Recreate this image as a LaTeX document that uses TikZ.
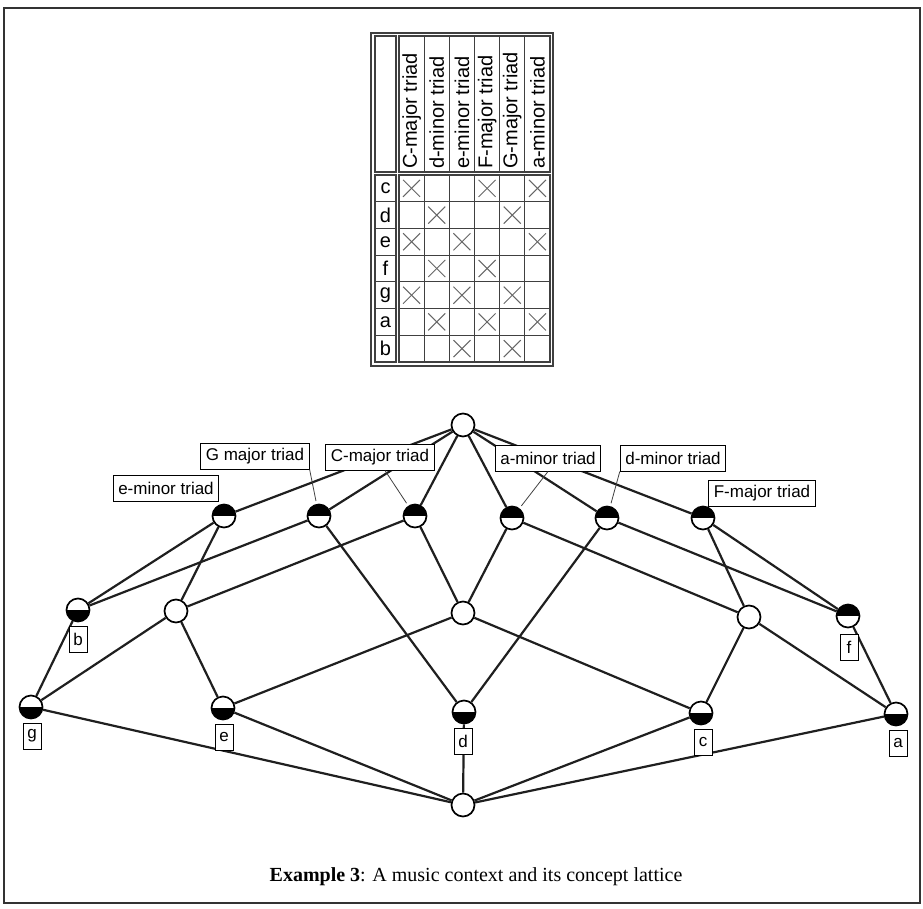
\documentclass[tikz,border=0pt]{standalone}
\usepackage{fontspec}
\setmainfont{Liberation Serif}
\setsansfont{Liberation Sans}
\usetikzlibrary{calc}

\begin{document}
\begin{tikzpicture}[x=1pt,y=-1pt,
  frameline/.style={line width=2.6pt, black!80},
  tline/.style={line width=1.1pt, black!75},
  xmark/.style={line width=1pt, black!60},
  tfont/.style={font=\sffamily\fontsize{20}{20}\selectfont, inner sep=0pt},
  edge/.style={line width=2.2pt, black!88},
  pointer/.style={line width=0.8pt, black!75, shorten >=3pt},
  concept/.style={circle, draw=black, line width=1.7pt, minimum size=23pt,
    inner sep=0pt, fill=white},
  topblack/.style={concept, path picture={\fill[black]
    (path picture bounding box.west) rectangle (path picture bounding box.north east);}},
  botblack/.style={concept, path picture={\fill[black]
    (path picture bounding box.west) rectangle (path picture bounding box.south east);}},
  tlabel/.style={draw, line width=1pt, fill=white, inner xsep=5pt, inner ysep=0pt,
    minimum height=26pt, font=\sffamily\fontsize{17}{17}\selectfont},
  olabel/.style={draw, line width=1pt, fill=white, inner sep=0pt,
    minimum width=18pt, minimum height=26pt, font=\sffamily\fontsize{17}{17}\selectfont}
]
\useasboundingbox (0,0) rectangle (923,908);

% outer frame
\draw[frameline] (4,8) rectangle (920,903);

% ---------------- formal context ----------------
\def\colw{25.17}
\def\rowh{26.71}
\draw[tline] (371,33) rectangle (553,366);
\draw[tline] (375,36) rectangle (396,172);
\draw[tline] (399,36) rectangle (550,172);
\draw[tline] (375,175) rectangle (396,362);
\draw[tline] (399,175) rectangle (550,362);
\foreach \j in {1,...,5} {
  \draw[tline] (399+\j*\colw,36) -- (399+\j*\colw,172);
  \draw[tline] (399+\j*\colw,175) -- (399+\j*\colw,362);
}
\foreach \k in {1,...,6} {
  \draw[tline] (375,175+\k*\rowh) -- (396,175+\k*\rowh);
  \draw[tline] (399,175+\k*\rowh) -- (550,175+\k*\rowh);
}
% attribute headers
\foreach \t [count=\j from 0] in {C-major triad,d-minor triad,e-minor triad,F-major triad,G-major triad,a-minor triad}
  \node[tfont, rotate=90, anchor=west] (h\j) at (399+\j*\colw+0.5*\colw,169) {\t};
% object rows
\foreach \o [count=\k from 0] in {c,d,e,f,g,a,b}
  \node[tfont] (r\k) at (385.5,175+\k*\rowh+0.5*\rowh) {\o};
% incidences (column, row)
\foreach \j/\k in {0/0,3/0,5/0, 1/1,4/1, 0/2,2/2,5/2, 1/3,3/3, 0/4,2/4,4/4, 1/5,3/5,5/5, 2/6,4/6} {
  \coordinate (x\j\k) at (399+\j*\colw+0.5*\colw,175+\k*\rowh+0.5*\rowh);
  \draw[xmark] ($(x\j\k)+(-8.5,-8.5)$) -- ($(x\j\k)+(8.5,8.5)$);
  \draw[xmark] ($(x\j\k)+(-8.5,8.5)$) -- ($(x\j\k)+(8.5,-8.5)$);
}

% ---------------- concept lattice ----------------
\node[concept]   (T)  at (463,425) {};
\node[topblack]  (A1) at (224,516) {};
\node[topblack]  (A2) at (319,516) {};
\node[topblack]  (A3) at (415,516) {};
\node[topblack]  (A4) at (512,518) {};
\node[topblack]  (A5) at (607,518) {};
\node[topblack]  (A6) at (703,518) {};
\node[botblack]  (nb) at (78,610) {};
\node[concept]   (L)  at (176,611) {};
\node[concept]   (M)  at (463,613) {};
\node[concept]   (R)  at (749,617) {};
\node[topblack]  (nf) at (848,616) {};
\node[botblack]  (ng) at (31,707) {};
\node[botblack]  (ne) at (223,708) {};
\node[botblack]  (nd) at (464,712) {};
\node[botblack]  (nc) at (701,713) {};
\node[botblack]  (na) at (896,714) {};
\node[concept]   (B)  at (463,805) {};

\foreach \u/\v in {T/A1,T/A2,T/A3,T/A4,T/A5,T/A6,
  A1/nb,A1/L, A2/nb,A2/nd, A3/L,A3/M, A4/M,A4/R, A5/nd,A5/nf, A6/nf,A6/R,
  nb/ng, L/ng,L/ne, M/ne,M/nc, R/nc,R/na, nf/na,
  ng/B,ne/B,nd/B,nc/B,na/B}
  \draw[edge] (\u) -- (\v);

% attribute labels
\node[tlabel] (lE) at (166,488) {e-minor triad};
\node[tlabel] (lG) at (255,456) {G major triad};
\node[tlabel] (lC) at (380,457) {C-major triad};
\node[tlabel] (lA) at (548,458) {a-minor triad};
\node[tlabel] (lD) at (673,458) {d-minor triad};
\node[tlabel] (lF) at (762,493) {F-major triad};
\draw[pointer] (lG.south east) -- (A2);
\draw[pointer] ([xshift=5pt]lC.south) -- (A3);
\draw[pointer] (lA.south) -- (A4);
\draw[pointer] (lD.south west) -- (A5);

% object labels
\node[olabel] (ob) at (78,639) {b};
\node[olabel] (og) at (32,736) {g};
\node[olabel] (oe) at (224,737) {e};
\node[olabel] (od) at (463,741) {d};
\node[olabel] (oc) at (703,742) {c};
\node[olabel] (of) at (849,647) {f};
\node[olabel] (oa) at (898,743) {a};

% caption
\node[font=\fontsize{20}{20}\selectfont, inner sep=0pt] (cap) at (476,877)
  {\textbf{Example 3}: A music context and its concept lattice};
\end{tikzpicture}
\end{document}
